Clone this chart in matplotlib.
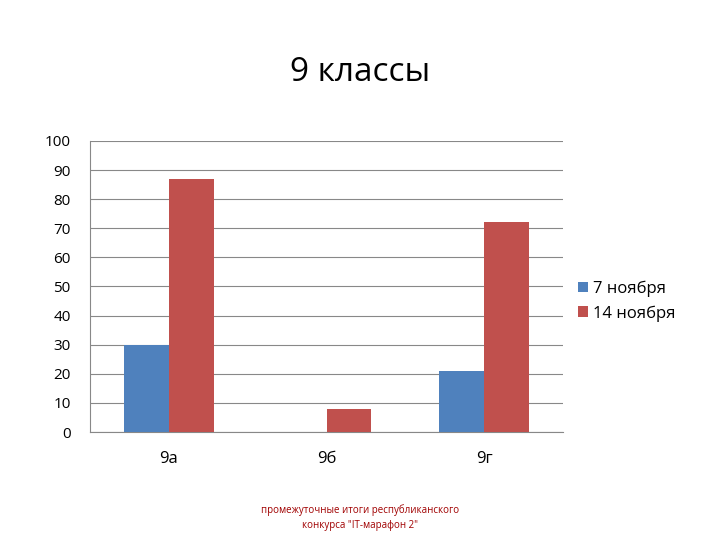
import matplotlib
matplotlib.use('Agg')
import matplotlib.pyplot as plt
import numpy as np

plt.rcParams['font.family'] = ['Open Sans', 'DejaVu Sans']

categories = ['9а', '9б', '9г']
nov7 = [30, 0, 21]
nov14 = [87, 8, 72]
series_labels = ['7 ноября', '14 ноября']

fig = plt.figure(figsize=(7.2, 5.4), dpi=100)
ax = fig.add_axes([0.125, 0.2, 0.657, 0.539])
x = np.arange(len(categories))
w = 0.285
ax.bar(x - w / 2, nov7, w, color='#4f81bd', label=series_labels[0], zorder=3)
ax.bar(x + w / 2, nov14, w, color='#c0504d', label=series_labels[1], zorder=3)
ax.set_xlim(-0.5, 2.5)
ax.set_ylim(0, 100)
ax.set_yticks(range(0, 101, 10))
ax.set_xticks(x)
ax.set_xticklabels(categories)
ax.grid(axis='y', color='#888888', linewidth=0.8, zorder=0)
for s in ['top', 'right', 'left']:
    ax.spines[s].set_visible(False)
ax.spines['bottom'].set_color('#888888')
ax.tick_params(axis='y', length=0, labelsize=11, pad=14)
ax.tick_params(axis='x', length=0, labelsize=12, pad=14)
ax.plot([0, 0], [0, 1], transform=ax.transAxes, color='#888888', lw=0.8, clip_on=False)
ax.legend(loc='center left', bbox_to_anchor=(1.0, 0.45), frameon=False, fontsize=12,
          handlelength=0.6, handleheight=0.6, handletextpad=0.3, labelspacing=0.5)

fig.text(0.5, 0.85, '9 классы', ha='center', fontsize=24)
fig.text(0.5, 0.022, 'промежуточные итоги республиканского\nконкурса "IT-марафон 2"',
         ha='center', fontsize=7, color='#a00000', linespacing=1.5)

fig.savefig('out.png', dpi=100)
